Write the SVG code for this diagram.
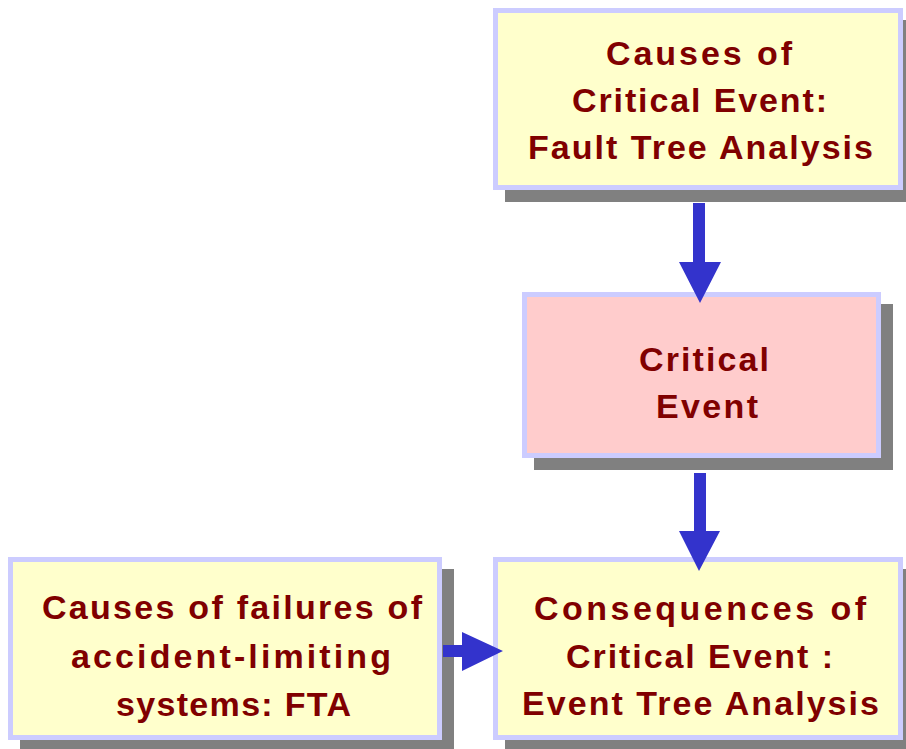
<svg xmlns="http://www.w3.org/2000/svg" width="906" height="749" viewBox="0 0 906 749">
  <style>
    .shadow { fill: #808080; }
    .box { stroke: #CCCCFF; stroke-width: 5; }
    .yellow { fill: #FFFFCC; }
    .pink { fill: #FFCCCC; }
    .label { font-family: "Liberation Sans", Arial, sans-serif; font-weight: bold; font-size: 34px; fill: #800000; }
    .arrow { fill: #3333CC; }
  </style>
  <rect width="906" height="749" fill="#FFFFFF"/>

  <!-- Top: fault tree causes -->
  <g id="node-fta-causes">
    <rect class="shadow" x="505" y="20" width="410" height="182"/>
    <rect class="box yellow" x="495.5" y="10.5" width="405" height="177"/>
    <text class="label" x="606" y="65" textLength="186" lengthAdjust="spacing">Causes of</text>
    <text class="label" x="572" y="112" textLength="255" lengthAdjust="spacing">Critical Event:</text>
    <text class="label" x="528" y="159" textLength="345" lengthAdjust="spacing">Fault Tree Analysis</text>
  </g>

  <!-- Middle: critical event -->
  <g id="node-critical-event">
    <rect class="shadow" x="534" y="304" width="359" height="166"/>
    <rect class="box pink" x="524.5" y="294.5" width="354" height="161"/>
    <text class="label" x="639" y="371" textLength="130" lengthAdjust="spacing">Critical</text>
    <text class="label" x="656" y="418" textLength="102" lengthAdjust="spacing">Event</text>
  </g>

  <!-- Bottom left: failures of accident-limiting systems -->
  <g id="node-safety-failures">
    <rect class="shadow" x="20" y="569" width="434" height="183"/>
    <rect class="box yellow" x="10.5" y="559.5" width="429" height="178"/>
    <text class="label" x="42" y="619" textLength="380" lengthAdjust="spacing">Causes of failures of</text>
    <text class="label" x="71" y="668" textLength="320" lengthAdjust="spacing">accident-limiting</text>
    <text class="label" x="116" y="716" textLength="235" lengthAdjust="spacing">systems: FTA</text>
  </g>

  <!-- Bottom right: event tree consequences -->
  <g id="node-eta-consequences">
    <rect class="shadow" x="505" y="569" width="410" height="183"/>
    <rect class="box yellow" x="495.5" y="559.5" width="405" height="178"/>
    <text class="label" x="534" y="620" textLength="332" lengthAdjust="spacing">Consequences of</text>
    <text class="label" x="566" y="668" textLength="267" lengthAdjust="spacing">Critical Event :</text>
    <text class="label" x="522" y="715" textLength="357" lengthAdjust="spacing">Event Tree Analysis</text>
  </g>

  <!-- Connectors: block arrows -->
  <g id="connectors">
    <polygon class="arrow" points="693,203 705,203 705,262 721,262 700,303 679,262 693,262"/>
    <polygon class="arrow" points="694,473 706,473 706,531 720,531 699,571 679,531 694,531"/>
    <polygon class="arrow" points="443,645 462,645 462,632 503,651 462,671 462,657 443,657"/>
  </g>
</svg>
